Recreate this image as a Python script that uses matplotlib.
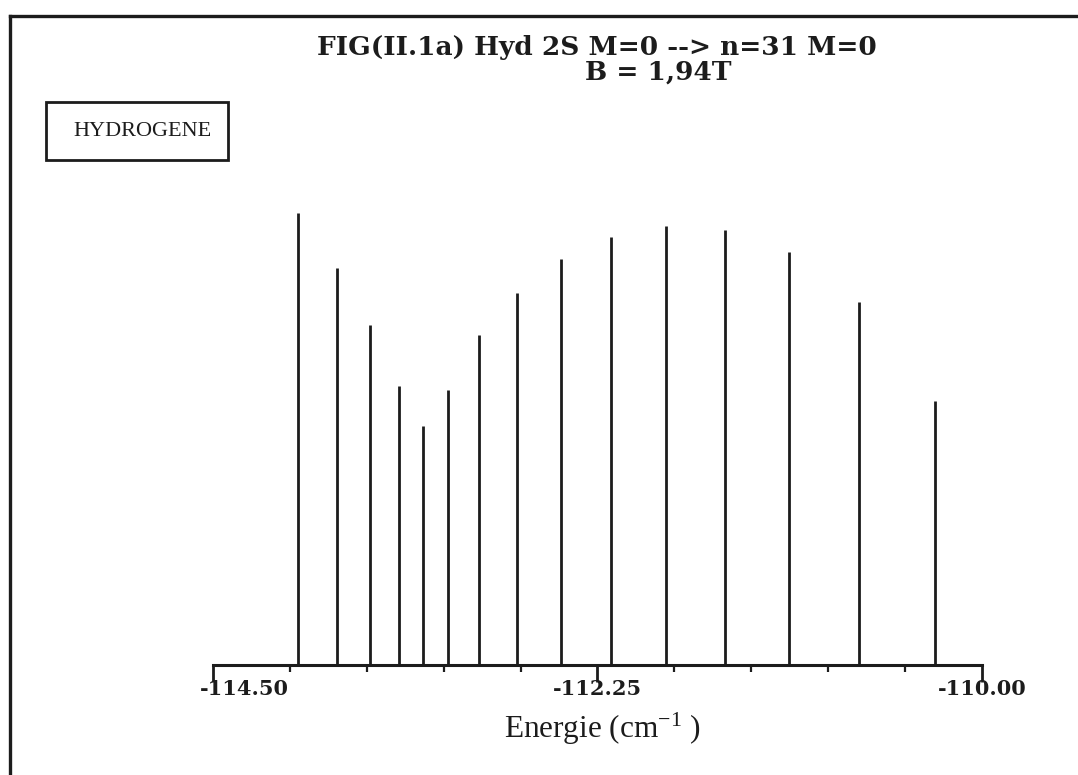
import matplotlib
matplotlib.use("Agg")
import matplotlib.pyplot as plt
import matplotlib.transforms as mtransforms
from matplotlib.patches import Rectangle
from matplotlib.lines import Line2D
import numpy as np

# ---- data ----
energies = [-114.003, -113.774, -113.581, -113.412, -113.271, -113.125,
            -112.943, -112.721, -112.464, -112.171, -111.849, -111.504,
            -111.129, -110.720, -110.275]
intensities = [1.000, 0.878, 0.752, 0.618, 0.528, 0.608, 0.730, 0.823,
               0.898, 0.947, 0.972, 0.962, 0.913, 0.803, 0.583]
major_ticks = [-114.50, -112.25, -110.00]
major_labels = ["-114.50", "-112.25", "-110.00"]
minor_ticks = list(np.arange(-114.50, -109.99, 0.45))
title_line1 = "FIG(II.1a) Hyd 2S M=0 --> n=31 M=0"
title_line2 = "B = 1,94T"
box_label = "HYDROGENE"
xlabel = "Energie (cm$^{-1}$ )"

W, H = 1078, 775
fig = plt.figure(figsize=(W / 100, H / 100), dpi=100)
fig.patch.set_facecolor("white")
plt.rcParams['mathtext.default'] = 'regular'

def fx(px):
    return px / W

def fy(py):
    return (H - py) / H

# axes: x from 213 px to 982 px, baseline at 665 px
ax_left, ax_right, base_y = 213, 982, 665
ymax = 1.05
height_px = 452 * ymax
ax = fig.add_axes([fx(ax_left), fy(base_y), (ax_right - ax_left) / W, height_px / H])
ax.set_xlim(-114.50, -110.00)
ax.set_ylim(0, ymax)
ax.patch.set_alpha(0)

ink = "#1c1c1c"
ax.vlines(energies, 0, intensities, colors=ink, linewidth=2.0)

for s in ["left", "right", "top"]:
    ax.spines[s].set_visible(False)
ax.spines["bottom"].set_linewidth(2.2)
ax.spines["bottom"].set_color(ink)
ax.set_yticks([])
ax.set_xticks(major_ticks)
ax.set_xticklabels([])
ax.set_xticks(minor_ticks, minor=True)
ax.tick_params(axis="x", which="major", direction="out", length=12, width=2.0, color=ink)
ax.tick_params(axis="x", which="minor", direction="out", length=5, width=1.6, color=ink)

# tick labels (left one sits to the right of its tick, as in the reference)
trans = mtransforms.blended_transform_factory(ax.transData, ax.transAxes)
lab_font = dict(family="DejaVu Serif", weight="bold", size=15, color=ink)
for i, (v, t) in enumerate(zip(major_ticks, major_labels)):
    if i == 0:
        off = mtransforms.offset_copy(trans, fig=fig, x=-13, y=-14, units="dots")
        ax.text(v, 0, t, transform=off, ha="left", va="top", **lab_font)
    else:
        off = mtransforms.offset_copy(trans, fig=fig, x=0, y=-14, units="dots")
        ax.text(v, 0, t, transform=off, ha="center", va="top", **lab_font)

# x label
fig.text(fx(602), fy(738), xlabel, ha="center", va="baseline",
         family="Liberation Serif", size=22.5, color=ink)

# title
fig.text(fx(597), fy(55), title_line1, ha="center", va="baseline",
         family="DejaVu Serif", weight="bold", size=19, color=ink)
fig.text(fx(658), fy(80), title_line2, ha="center", va="baseline",
         family="DejaVu Serif", weight="bold", size=19, color=ink)

# HYDROGENE box
fig.patches.append(Rectangle((fx(46), fy(160)), (228 - 46) / W, (160 - 102) / H,
                             transform=fig.transFigure, fill=False,
                             edgecolor=ink, linewidth=2.0))
fig.text(fx(142), fy(131), box_label, ha="center", va="center",
         family="Liberation Serif", size=16, color=ink)

# outer frame (top and left edges visible)
fig.lines.append(Line2D([fx(10), fx(1078)], [fy(16), fy(16)], transform=fig.transFigure,
                        color=ink, linewidth=2.4))
fig.lines.append(Line2D([fx(10), fx(10)], [fy(16), fy(775)], transform=fig.transFigure,
                        color=ink, linewidth=2.4))

fig.savefig("out.png", dpi=100, facecolor="white")
